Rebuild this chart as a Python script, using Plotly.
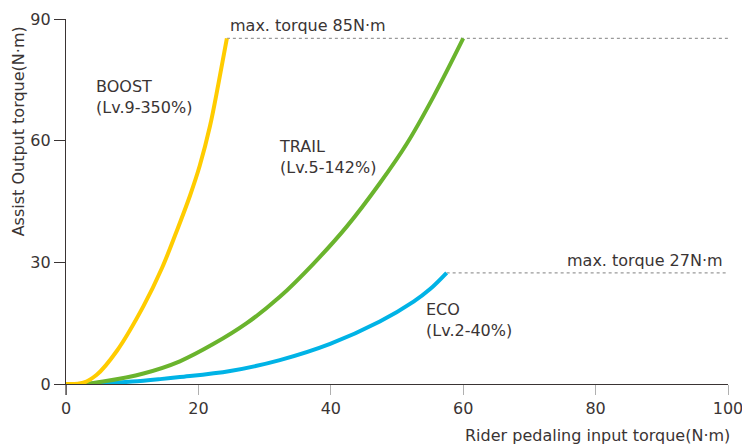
import plotly.graph_objects as go

# Data
boost_x = [0, 2.6, 4.6, 7.7, 11.7, 14.5, 16.7, 18.7, 20.2, 21.75, 23.0, 24.3]
boost_y = [0, 0.3, 2.2, 8.2, 19.2, 28.6, 37.6, 46.3, 53.8, 63.6, 73.8, 85.2]

trail_x = [0, 3, 5.6, 11.7, 17.2, 22.3, 27.3, 32.3, 37.4, 42.4, 47.4, 51.5, 55.5, 60.0]
trail_y = [0, 0.05, 0.6, 2.6, 5.6, 9.9, 15.0, 21.5, 29.7, 38.8, 49.5, 59.3, 70.8, 85.2]

eco_x = [0, 5, 10, 14.2, 17.2, 24.8, 32.3, 39.9, 47.4, 52.5, 55.0, 57.5]
eco_y = [0, 0.1, 0.6, 1.2, 1.7, 3.2, 5.9, 9.9, 15.4, 20.3, 23.4, 27.4]

max_high = 85.2
max_low = 27.4

x_ticks = [0, 20, 40, 60, 80, 100]
y_ticks = [0, 30, 60, 90]

FONT = "DejaVu Sans"
TXT = "#3a3434"

fig = go.Figure()

# dotted max lines
fig.add_trace(go.Scatter(x=[boost_x[-1], 100], y=[max_high, max_high], mode="lines",
                         line=dict(color="#9a9a9a", width=1.3, dash="dot"), hoverinfo="skip"))
fig.add_trace(go.Scatter(x=[eco_x[-1], 100], y=[max_low, max_low], mode="lines",
                         line=dict(color="#9a9a9a", width=1.3, dash="dot"), hoverinfo="skip"))

for xs, ys, col in [(eco_x, eco_y, "#00b3e6"), (trail_x, trail_y, "#6ab42d"), (boost_x, boost_y, "#ffcc00")]:
    fig.add_trace(go.Scatter(x=xs, y=ys, mode="lines", line=dict(color=col, width=4, shape="spline", smoothing=1.0),
                             cliponaxis=False, hoverinfo="skip"))

ann = [
    dict(x=24.5, y=max_high, text="max. torque 85N·m", xanchor="left", yanchor="bottom", yshift=1),
    dict(x=99.5, y=max_low, text="max. torque 27N·m", xanchor="right", yanchor="bottom", yshift=1),
    dict(x=4.3, y=70.8, text="BOOST<br>(Lv.9-350%)", xanchor="left", yanchor="middle", align="left"),
    dict(x=31.8, y=55.9, text="TRAIL<br>(Lv.5-142%)", xanchor="left", yanchor="middle", align="left"),
    dict(x=54.1, y=15.8, text="ECO<br>(Lv.2-40%)", xanchor="left", yanchor="middle", align="left"),
]
for a in ann:
    fig.add_annotation(showarrow=False, xref="x", yref="y", font=dict(family=FONT, size=16, color=TXT), **a)

# axis titles
fig.add_annotation(text="Assist Output torque(N·m)", xref="paper", yref="paper", x=-0.072, y=1.0,
                   xanchor="center", yanchor="top", textangle=-90, showarrow=False, yshift=-5,
                   font=dict(family=FONT, size=16, color=TXT))
fig.add_annotation(text="Rider pedaling input torque(N·m)", xref="paper", yref="paper", x=1.0, y=-0.115,
                   xanchor="right", yanchor="top", showarrow=False, xshift=4, yshift=2,
                   font=dict(family=FONT, size=16, color=TXT))

# y axis extension below x axis
fig.add_shape(type="line", xref="paper", yref="paper", x0=0, x1=0, y0=-0.03, y1=0,
              line=dict(color="#3a3434", width=1.2))

fig.update_layout(
    width=742, height=445,
    margin=dict(l=66, r=14, t=19, b=61, autoexpand=False),
    paper_bgcolor="white", plot_bgcolor="white",
    showlegend=False,
    font=dict(family=FONT, size=16, color=TXT),
)
fig.update_xaxes(range=[0, 100], tickvals=x_ticks, showgrid=False, zeroline=False,
                 showline=True, linecolor="#3a3434", linewidth=1.2, automargin=False,
                 ticks="outside", ticklen=10, tickcolor="#b0b0b0", tickwidth=1.2,
                 ticklabeloverflow="allow",
                 tickfont=dict(family=FONT, size=16, color=TXT))
fig.update_yaxes(range=[0, 90], tickvals=y_ticks, showgrid=False, zeroline=False,
                 showline=True, linecolor="#3a3434", linewidth=1.2, automargin=False,
                 ticks="outside", ticklen=11, tickcolor="#3a3434", tickwidth=1.2,
                 tickfont=dict(family=FONT, size=16, color=TXT))

fig.write_html("out.html", config={"displayModeBar": False},
               post_script="document.body.style.margin='0';")
